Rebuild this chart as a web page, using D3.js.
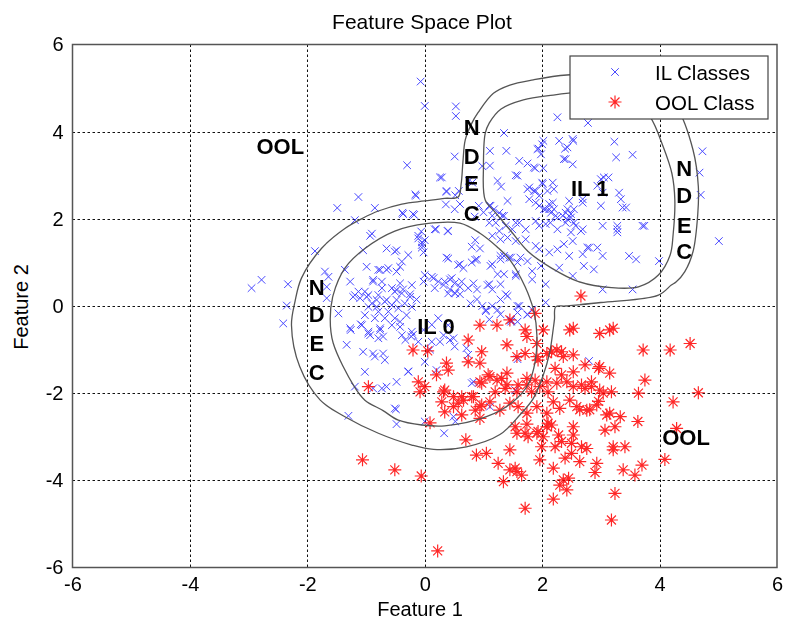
<!DOCTYPE html>
<html>
<head>
<meta charset="utf-8">
<script src="https://cdn.jsdelivr.net/npm/d3@7"></script>
<style>
  body { margin: 0; background: #fff; }
  svg { display: block; }
  text { font-family: "Liberation Sans", Arial, Helvetica, sans-serif; }
</style>
</head>
<body>
<svg id="chart" width="786" height="621"></svg>
<script>
// Axis ticks
const xTicks = [-6, -4, -2, 0, 2, 4, 6];
const yTicks = [-6, -4, -2, 0, 2, 4, 6];

// In-library (IL) samples, classes 0 and 1
const ilClasses = [
  [-0.07,5.15],[0.0,4.59],[0.53,4.58],[0.53,4.36],[0.51,3.43],[-0.3,3.23],[0.29,2.95],[0.81,2.83],[0.98,3.21],[0.75,2.87],
  [2.26,4.33],[2.78,4.20],[1.35,3.97],[2.02,3.79],[2.29,3.79],[2.52,3.83],[2.39,3.61],[1.94,3.61],[3.23,3.77],[3.26,3.41],
  [3.54,3.47],[4.73,3.55],[4.68,3.06],[4.70,2.55],[1.11,3.56],[1.39,3.56],[1.11,3.22],[1.61,3.33],[1.75,3.27],[1.88,3.16],
  [2.02,3.16],[2.40,3.37],[2.52,3.25],[1.55,3.0],[1.24,2.87],[1.30,2.74],[1.78,2.72],[2.01,2.80],[2.18,2.83],[3.0,2.91],
  [3.13,2.95],[3.03,2.60],[3.31,2.60],[3.34,2.45],[3.43,2.26],[2.69,2.37],[2.46,2.41],[1.75,2.68],[1.95,2.53],[2.09,2.64],
  [1.41,2.41],[1.10,2.30],[1.32,2.07],[1.95,2.30],[2.12,2.22],[2.23,2.07],[2.40,2.14],[2.54,2.22],[1.61,1.91],[1.89,1.95],
  [3.03,1.84],[3.28,1.76],[3.71,1.84],[1.92,3.60],[2.0,3.71],[1.98,3.48],[2.43,3.64],[2.37,3.37],[2.53,3.79],[1.86,3.18],
  [1.58,2.99],[1.86,2.64],[2.0,2.83],[2.20,2.68],[3.05,2.95],[2.94,2.76],[0.37,2.64],[0.26,2.95],[-0.16,2.56],
  [1.12,2.30],[1.18,2.22],[1.27,2.14],[1.35,2.07],[1.15,2.07],[1.10,1.91],[1.21,1.91],[1.38,1.84],[1.55,1.91],[1.72,1.76],
  [1.49,1.76],[1.27,1.72],[1.89,2.64],[1.78,2.45],[1.89,2.37],[2.06,2.22],[2.18,2.37],[2.15,2.14],[2.35,2.07],[2.43,2.22],
  [2.40,1.91],[2.49,2.03],[2.57,1.84],[2.69,1.76],[2.06,1.88],[1.95,1.84],[2.49,2.11],[2.54,1.91],[2.66,1.72],[2.49,1.69],
  [2.26,1.76],[2.14,1.91],[2.26,2.03],[2.43,1.99],[2.03,2.22],[2.12,2.34],[2.20,2.22],[2.69,2.45],[3.37,2.26],[3.0,2.30],
  [3.28,1.84],[3.28,1.69],[3.74,1.84],[1.15,1.61],[1.29,1.53],[1.41,1.57],[1.55,1.49],[1.72,1.53],[1.89,1.38],[1.95,1.30],
  [1.63,1.11],[1.75,1.03],[1.44,1.11],[1.29,1.15],[1.15,0.96],[1.35,0.73],[1.55,0.73],[1.83,0.80],[1.98,0.92],[1.10,0.50],
  [1.29,0.50],[2.06,0.50],[2.26,1.30],[2.37,1.42],[2.12,1.23],[2.46,1.15],[2.29,0.88],[2.52,0.69],[2.71,0.92],[2.88,0.84],
  [2.80,1.34],[2.94,1.34],[3.03,1.15],[3.48,1.15],[3.60,1.07],[3.99,1.03],[3.03,0.38],[3.54,0.38],[5.01,1.49],[2.52,1.49],
  [2.69,1.19],[2.77,1.34],
  [1.38,0.27],[1.61,0.0],[1.15,0.0],[1.29,-0.19],[1.58,-0.15],[1.75,-0.19],[1.83,-0.08],[1.47,-0.36],[1.04,-0.12],[1.10,-0.31],
  [2.80,-1.26],[1.58,-1.22],[2.06,0.08],
  [-1.13,2.50],[-1.49,2.25],[-0.85,2.25],[-0.15,2.53],[-0.38,2.14],[-0.18,2.09],[0.37,2.62],[0.52,2.54],[0.58,2.64],[0.36,2.33],
  [0.51,2.22],[0.60,2.34],[-1.19,1.97],[-0.9,1.66],[-0.06,1.71],[0.19,1.76],[0.39,1.72],[0.92,2.30],[1.0,2.15],[0.85,2.05],
  [-0.37,2.11],[-0.20,2.11],[0.17,1.76],[0.40,1.72],[-0.11,1.61],[-0.05,1.46],[-0.05,1.34],[-0.02,1.23],[0.37,1.11],[0.60,0.96],
  [0.89,1.07],[0.80,1.0],[1.12,0.92],[1.29,1.07],[1.35,1.15],[1.47,1.11],[1.58,1.0],[1.24,0.73],[1.55,0.69],[1.83,0.61],
  [-0.42,0.52],[-0.37,0.38],[-0.25,0.27],[-0.14,0.15],[-0.02,0.56],[0.15,0.64],[0.23,0.56],[0.32,0.48],[0.43,0.61],[0.51,0.52],
  [0.60,0.44],[0.43,0.38],[0.51,0.30],[0.60,0.27],[0.74,0.41],[0.83,0.52],[0.89,0.38],[0.89,0.15],[0.98,0.0],[1.07,0.48],
  [1.15,0.38],[1.41,0.23],[1.58,0.0],[1.75,-0.20],[1.58,-0.36],[1.47,-0.32],[1.24,-0.09],[1.29,0.15],[1.04,-0.09],[0.78,0.06],
  [0.12,-0.43],[-0.02,-0.55],[-0.20,-0.66],[-0.23,-0.70],[0.26,-0.82],[0.09,-1.0],[0.43,-0.78],[0.51,-0.93],[-0.33,-0.78],[-0.42,-0.48],
  [-0.28,-1.50],[0.80,-1.77],
  [-2.95,0.41],[-2.78,0.60],[-2.33,0.50],[-2.35,0.01],[-2.41,-0.40],[-1.87,1.26],[-1.70,0.79],[-1.64,0.67],[-1.67,0.44],[-1.47,-0.17],
  [-1.36,0.83],[-1.27,0.56],[-1.22,0.21],[-1.33,-0.89],[-1.26,-0.55],[-1.09,-0.42],[-0.99,0.90],[-0.88,0.56],[-1.10,0.18],[-0.96,0.25],
  [-0.90,0.06],[-0.79,0.25],[-0.73,0.41],[-0.65,1.32],[-0.48,1.28],[-0.28,1.17],[-0.79,0.83],[-0.62,0.87],[-0.42,0.90],[-0.39,1.02],
  [-0.56,0.41],[-0.48,0.37],[-0.39,0.29],[-0.25,0.21],[-0.22,0.48],[-0.62,-0.13],[-0.51,-0.28],[-0.42,-0.36],[-0.31,-0.21],[-0.96,-0.59],
  [-0.93,-0.67],[-0.76,-0.55],[-0.79,-0.74],[-1.05,-1.05],[-0.88,-1.09],[-0.71,-1.09],[-0.68,-1.24],[-0.85,-1.16],[-1.02,-1.51],[-0.73,-1.89],
  [-0.65,-1.85],[-0.48,-1.74],[-0.28,-1.51],[-1.19,-1.85],[-0.11,1.55],[-0.05,1.40],[0.00,1.51],[0.00,0.71],[0.12,0.67],[0.34,0.56],
  [0.46,0.64],[0.63,0.56],[0.52,0.29],[0.40,0.29],[0.17,0.41],[0.40,1.09],[0.57,0.94],[0.66,0.87],[0.86,1.06],[0.80,1.36],
  [0.86,1.51],[0.94,1.32],[0.23,-0.28],[0.40,-0.44],[0.32,-0.67],[0.49,-0.74],[0.12,-0.82],[0.00,-1.28],[0.20,-1.47],[0.71,-0.97],
  [0.74,-1.12],[0.83,-1.74],
  [-1.19,0.25],[-1.02,0.33],[-0.82,0.14],[-0.68,0.10],[-0.56,0.02],[-0.45,-0.05],[-0.34,0.06],[-0.22,-0.02],[-0.56,-0.44],[-0.68,-0.28],
  [-0.79,-0.13],[-0.85,-0.28],[-1.02,-0.21],[-0.39,-0.67],[-0.22,-0.59],[-0.11,-0.82],
  [-0.93,1.61],[-1.05,1.28],[-0.51,1.25],[-0.76,0.83],[-0.65,0.83],[-0.48,0.79],[-0.88,0.60],[-0.73,0.56],[-1.67,0.18],[-1.13,0.33],
  [-0.99,0.21],[-0.65,0.14],[-0.51,0.33],[-0.48,0.14],[-0.96,-0.02],[-0.82,-0.02],[-1.27,-0.51],[-1.07,-0.44],[-0.96,-0.63],[-0.76,-0.51],
  [-0.71,-0.70],[-0.88,-1.89],[-1.30,-2.52],[-0.51,-2.35],
  [-0.49,-2.37],[-0.48,-2.71],[0.00,-2.65],[0.33,-2.92],[0.49,-2.54],[0.52,-2.65],[1.11,-2.31],[1.54,-1.93]
];

// Out-of-library (OOL) samples
const oolClass = [
  [-0.20,-1.01],[0.05,-1.03],[-0.96,-1.85],[-0.11,-1.74],[0.00,-1.85],[-0.08,-1.97],[0.20,-1.58],[0.37,-1.31],[0.40,-1.47],[0.34,-1.93],
  [0.63,-2.08],[0.83,-2.08],[0.74,-0.78],[0.94,-0.44],[0.97,-1.05],[0.74,-1.28],[0.94,-1.31],[0.94,-1.74],
  [1.88,-0.17],[1.23,-0.44],[1.45,-0.32],[1.71,-0.55],[2.02,-0.55],[2.47,-0.55],[2.53,-0.51],[2.98,-0.63],[3.15,-0.55],[3.21,-0.51],
  [1.40,-0.89],[1.74,-0.70],[1.91,-0.86],[1.57,-1.16],[1.71,-1.09],[1.91,-1.16],[2.08,-1.09],[2.25,-1.01],[2.36,-1.16],[2.53,-1.12],
  [2.73,-1.35],[2.98,-1.39],[3.15,-1.54],[3.72,-1.01],[4.18,-1.01],[4.52,-0.86],[3.75,-1.70],[3.64,-2.00],[4.66,-1.99],[4.23,-2.20],
  [0.97,-1.77],[1.11,-1.62],[1.23,-1.70],[1.31,-1.66],[1.40,-1.54],[1.40,-1.81],[1.57,-1.97],[1.74,-1.81],[1.88,-1.70],[1.96,-1.85],
  [2.08,-1.74],[2.25,-1.77],[2.42,-1.74],[2.53,-1.85],[2.67,-1.81],[2.84,-1.85],[2.98,-1.93],[3.04,-2.00],
  [0.32,-1.97],[0.49,-2.08],[0.66,-2.16],[0.80,-2.08],[0.94,-2.31],[1.11,-2.20],[1.28,-2.39],[1.45,-2.23],[1.59,-2.31],[1.74,-2.46],
  [1.91,-2.31],[2.08,-2.46],[2.19,-2.20],[2.30,-2.35],[2.47,-2.16],[2.59,-2.31],[2.76,-2.39],[2.93,-2.27],[3.15,-2.46],[3.33,-2.54],
  [2.66,0.23],[1.93,-1.24],[2.16,-1.05],[2.33,-1.05],[2.96,-1.43],
  [1.08,-1.58],[1.37,-1.89],[1.20,-1.97],[1.59,-1.81],[1.74,-1.66],[1.82,-1.97],[2.10,-1.97],[2.22,-1.43],[2.33,-1.58],[2.53,-1.51],
  [2.73,-1.89],[2.84,-1.74],[3.18,-1.97],
  [-1.06,-3.53],[-0.51,-3.76],[-0.06,-3.90],[0.22,-5.62],[0.09,-2.68],[0.70,-3.07],[0.88,-3.42],[0.29,-2.20],[0.34,-2.43],[0.49,-2.31],
  [0.63,-2.50],[0.86,-2.39],[0.97,-2.27],[0.94,-2.58],[0.57,-2.23],
  [1.05,-3.38],[1.25,-3.61],[1.34,-4.03],[1.45,-3.30],[1.45,-3.76],[1.54,-3.72],[1.57,-3.80],[1.65,-3.88],[1.71,-4.64],[1.54,-2.77],
  [1.57,-2.92],[1.71,-2.92],[1.74,-2.71],[1.91,-2.92],[2.02,-3.00],[2.08,-2.77],[2.16,-2.73],[2.28,-2.96],[2.33,-3.11],[2.22,-3.23],
  [1.99,-3.23],[1.96,-3.53],[2.19,-3.72],[2.30,-4.11],[2.36,-3.99],[2.45,-3.95],[2.42,-4.22],[2.50,-3.38],[2.53,-2.77],[2.53,-2.96],
  [2.39,-3.49],[2.67,-3.23],[2.76,-3.27],[2.64,-3.57],[2.93,-3.61],[2.90,-3.82],[3.07,-2.85],[3.24,-2.77],[3.21,-3.23],[3.21,-3.30],
  [3.41,-3.23],[3.38,-3.76],[3.58,-3.88],[3.70,-3.65],[3.63,-2.65],[3.24,-4.30],[3.18,-4.91],[2.19,-4.43],[4.09,-3.52],[4.29,-2.81],
  [2.50,-3.15],[2.64,-2.38],[2.81,-2.38],[2.96,-2.19],[3.10,-2.50],[2.10,-2.69],[1.93,-2.88],[1.76,-3.00]
];

// Decision boundaries: outer level (both IL classes merged) and inner level per class
const outerBoundary = [
  [-2.27,-0.44],[-2.21,0.10],[-2.10,0.64],[-1.76,1.32],[-1.36,1.78],[-1.05,2.02],[-0.79,2.18],[-0.39,2.34],[0.0,2.41],[0.34,2.47],[0.57,2.50],
  [0.62,2.80],[0.65,3.30],[0.69,3.81],[0.80,4.19],[0.91,4.44],[1.17,4.88],[1.45,5.07],[1.85,5.19],[2.42,5.30],[3.21,5.30],
  [3.89,5.11],[4.29,4.57],[4.57,3.58],[4.66,2.74],[4.65,2.10],[4.57,1.25],[4.43,0.79],[4.28,0.55],[4.20,0.48],[3.98,0.25],
  [3.0,0.08],[2.40,0.0],[2.23,-0.02],[2.21,-0.30],[2.19,-0.51],[2.13,-1.05],[2.02,-1.58],[1.85,-2.12],[1.62,-2.50],[1.28,-2.95],
  [0.71,-3.23],[0.15,-3.29],[-0.22,-3.19],[-0.79,-2.92],[-1.36,-2.54],[-1.78,-2.16],[-2.13,-1.39]
];
const innerIL0 = [
  [-1.61,-0.30],[-1.56,0.25],[-1.36,0.87],[-1.02,1.32],[-0.51,1.72],[0.03,1.89],[0.60,1.90],[0.94,1.67],[1.23,1.36],[1.45,1.06],
  [1.71,0.44],[1.86,-0.13],[1.91,-0.67],[1.88,-1.28],[1.76,-1.80],[1.50,-2.20],[1.05,-2.54],[0.34,-2.75],[-0.05,-2.73],[-0.45,-2.62],
  [-0.71,-2.40],[-1.02,-2.16],[-1.20,-1.85],[-1.56,-0.85]
];
const innerIL1 = [
  [1.03,2.43],[1.00,3.20],[1.03,3.96],[1.10,4.20],[1.30,4.52],[1.68,4.73],[2.19,4.84],[2.76,4.92],[3.21,4.92],[3.55,4.73],
  [3.84,4.34],[4.06,3.66],[4.21,3.04],[4.26,2.43],[4.23,1.63],[4.18,1.17],[3.98,0.71],[3.64,0.44],[3.18,0.42],[2.62,0.56],
  [2.16,0.87],[1.76,1.25],[1.45,1.75],[1.20,2.15]
];

// Region annotations
const regionLabels = [
  { text: "OOL", x: -2.46, y: 3.66 },
  { text: "OOL", x: 4.45, y: -3.0 },
  { text: "IL 1", x: 2.81, y: 2.70 },
  { text: "IL 0", x: 0.19, y: -0.47 }
];
const ndecLetters = ["N", "D", "E", "C"];
const ndecColumns = [
  { x: -1.84, ys: [0.44, -0.18, -0.85, -1.51] },
  { x: 0.80, ys: [4.11, 3.43, 2.82, 2.13] },
  { x: 4.42, ys: [3.16, 2.55, 1.86, 1.25] }
];

const legendItems = [
  { label: "IL Classes", kind: "il" },
  { label: "OOL Class", kind: "ool" }
];

const svg = d3.select("#chart");
const plotLeft = 72.5, plotRight = 777, plotTop = 44.5, plotBottom = 567.5;

const x = d3.scaleLinear().domain([-6, 6]).range([plotLeft, plotRight]);
const y = d3.scaleLinear().domain([-6, 6]).range([plotBottom, plotTop]);

// Dotted grid
const grid = svg.append("g").attr("stroke", "#111").attr("stroke-width", 1)
  .attr("stroke-dasharray", "2.5,2.5").attr("fill", "none");
grid.selectAll("line.gx").data(xTicks.slice(1, -1)).join("line").attr("class", "gx")
  .attr("x1", d => Math.round(x(d)) + 0.5).attr("x2", d => Math.round(x(d)) + 0.5)
  .attr("y1", plotTop).attr("y2", plotBottom);
grid.selectAll("line.gy").data(yTicks.slice(1, -1)).join("line").attr("class", "gy")
  .attr("y1", d => Math.round(y(d)) + 0.5).attr("y2", d => Math.round(y(d)) + 0.5)
  .attr("x1", plotLeft).attr("x2", plotRight);

// Marker shapes
const crossPath = r => `M${-r},${-r}L${r},${r}M${-r},${r}L${r},${-r}`;
const starPath = (p, q) => `M0,${-p}V${p}M${-p},0H${p}M${-q},${-q}L${q},${q}M${-q},${q}L${q},${-q}`;

svg.append("g").attr("fill", "none").attr("stroke", "#1a1aff").attr("stroke-width", 1).attr("opacity", 0.8)
  .selectAll("path").data(ilClasses).join("path")
  .attr("transform", d => `translate(${x(d[0])},${y(d[1])})`)
  .attr("d", crossPath(3.8));

svg.append("g").attr("fill", "none").attr("stroke", "#ff0000").attr("stroke-width", 1.2).attr("opacity", 0.85)
  .selectAll("path").data(oolClass).join("path")
  .attr("transform", d => `translate(${x(d[0])},${y(d[1])})`)
  .attr("d", starPath(6.5, 4.5));

// Boundaries
const boundaryLine = d3.line().x(d => x(d[0])).y(d => y(d[1]))
  .curve(d3.curveCatmullRomClosed.alpha(0.5));
svg.append("g").attr("fill", "none").attr("stroke", "#555").attr("stroke-width", 1.3)
  .selectAll("path").data([outerBoundary, innerIL0, innerIL1]).join("path")
  .attr("d", boundaryLine);

// Region text
const labelG = svg.append("g").attr("font-weight", "bold").attr("font-size", 22)
  .attr("text-anchor", "middle").attr("fill", "#000");
labelG.selectAll("text.region").data(regionLabels).join("text").attr("class", "region")
  .attr("x", d => x(d.x)).attr("y", d => y(d.y)).attr("dy", "0.36em").text(d => d.text);
ndecColumns.forEach(col => {
  labelG.append("g").selectAll("text").data(col.ys).join("text")
    .attr("x", x(col.x)).attr("y", d => y(d)).attr("dy", "0.36em")
    .text((d, i) => ndecLetters[i]);
});

// Axes box
svg.append("rect").attr("x", plotLeft).attr("y", plotTop)
  .attr("width", plotRight - plotLeft).attr("height", plotBottom - plotTop)
  .attr("fill", "none").attr("stroke", "#555").attr("stroke-width", 1.5);

// Tick labels
const xAxis = svg.append("g").attr("transform", `translate(0,${plotBottom})`)
  .call(d3.axisBottom(x).tickValues(xTicks).tickSize(0).tickPadding(9).tickFormat(d => String(d)));
const yAxis = svg.append("g").attr("transform", `translate(${plotLeft},0)`)
  .call(d3.axisLeft(y).tickValues(yTicks).tickSize(0).tickPadding(9).tickFormat(d => String(d)));
[xAxis, yAxis].forEach(a => {
  a.select(".domain").remove();
  a.attr("font-size", 20).attr("font-family", null);
  a.selectAll("text").attr("fill", "#000");
});

// Titles
svg.append("text").attr("x", 422).attr("y", 29).attr("text-anchor", "middle")
  .attr("font-size", 21).text("Feature Space Plot");
svg.append("text").attr("x", 420).attr("y", 616).attr("text-anchor", "middle")
  .attr("font-size", 20).text("Feature 1");
svg.append("text").attr("transform", "translate(28,307) rotate(-90)").attr("text-anchor", "middle")
  .attr("font-size", 20).text("Feature 2");

// Legend
const legend = svg.append("g").attr("transform", "translate(570,56)");
legend.append("rect").attr("width", 198).attr("height", 63)
  .attr("fill", "#fff").attr("stroke", "#444").attr("stroke-width", 1.2);
const rows = legend.selectAll("g.row").data(legendItems).join("g").attr("class", "row")
  .attr("transform", (d, i) => `translate(0,${16 + i * 30})`);
rows.append("path")
  .attr("transform", "translate(45,0)")
  .attr("fill", "none")
  .attr("stroke", d => d.kind === "il" ? "#1a1aff" : "#ff0000")
  .attr("stroke-width", d => d.kind === "il" ? 1 : 1.2)
  .attr("opacity", d => d.kind === "il" ? 0.8 : 0.85)
  .attr("d", d => d.kind === "il" ? crossPath(3.8) : starPath(6.5, 4.5));
rows.append("text").attr("x", 85).attr("y", 7.5).attr("font-size", 20.5).text(d => d.label);
</script>
</body>
</html>
